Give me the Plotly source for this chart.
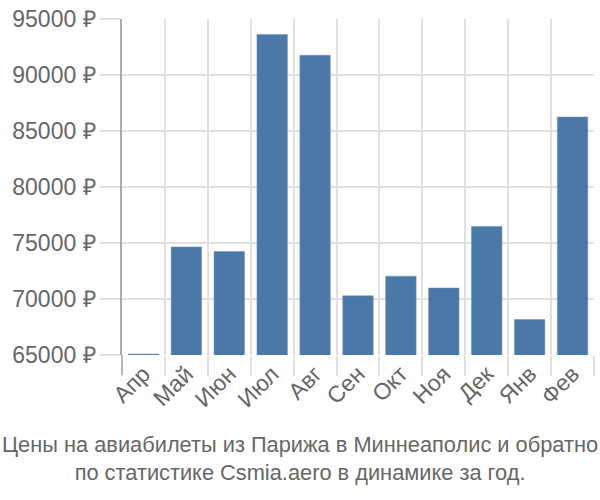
import plotly.graph_objects as go

months = ["Апр", "Май", "Июн", "Июл", "Авг", "Сен", "Окт", "Ноя", "Дек", "Янв", "Фев"]
prices = [65080, 74650, 74230, 93620, 91760, 70280, 72040, 70980, 76480, 68170, 86250]
y_ticks = [65000, 70000, 75000, 80000, 85000, 90000, 95000]
y_labels = [f"{v} ₽" for v in y_ticks]
title_lines = ["Цены на авиабилеты из Парижа в Миннеаполис и обратно",
               "по статистике Csmia.aero в динамике за год."]

grid = "#e0e0e0"
fig = go.Figure(go.Bar(
    x=months, y=prices,
    marker=dict(color="#4c78a8", line=dict(color="#6a8fbb", width=0.5)),
))
fig.update_layout(
    width=600, height=500,
    margin=dict(l=122, r=6, t=14, b=145),
    plot_bgcolor="white", paper_bgcolor="white",
    bargap=0.29,
    showlegend=False,
    font=dict(family="Liberation Sans, Arial, sans-serif", color="#666666"),
    annotations=[dict(
        text="<br>".join(title_lines), xref="paper", yref="paper",
        x=(300 - 122) / 472, y=-0.222, xanchor="center", yanchor="top", showarrow=False,
        font=dict(size=21.8, color="#666666"),
    )],
    shapes=[dict(type="line", xref="paper", yref="paper", x0=0, x1=0, y0=0, y1=-20 / 341,
                 line=dict(color="#aaaaaa", width=1.5))],
)
fig.update_xaxes(
    type="category", tickson="boundaries", ticks="outside", ticklen=20,
    tickcolor=grid, tickwidth=1.5, showgrid=True, gridcolor=grid, gridwidth=1.5,
    tickangle=-45, tickfont=dict(size=23, color="#666666"),
    showline=False, zeroline=False,
)
fig.update_yaxes(
    range=[65000, 95000], tickvals=y_ticks, ticktext=y_labels,
    ticks="outside", ticklen=20, tickcolor=grid, tickwidth=1.5,
    showgrid=True, gridcolor=grid, gridwidth=1.5,
    showline=True, linecolor="#aaaaaa", linewidth=1.5,
    tickfont=dict(size=23, color="#666666"), zeroline=False,
)
fig.write_html("out.html")
